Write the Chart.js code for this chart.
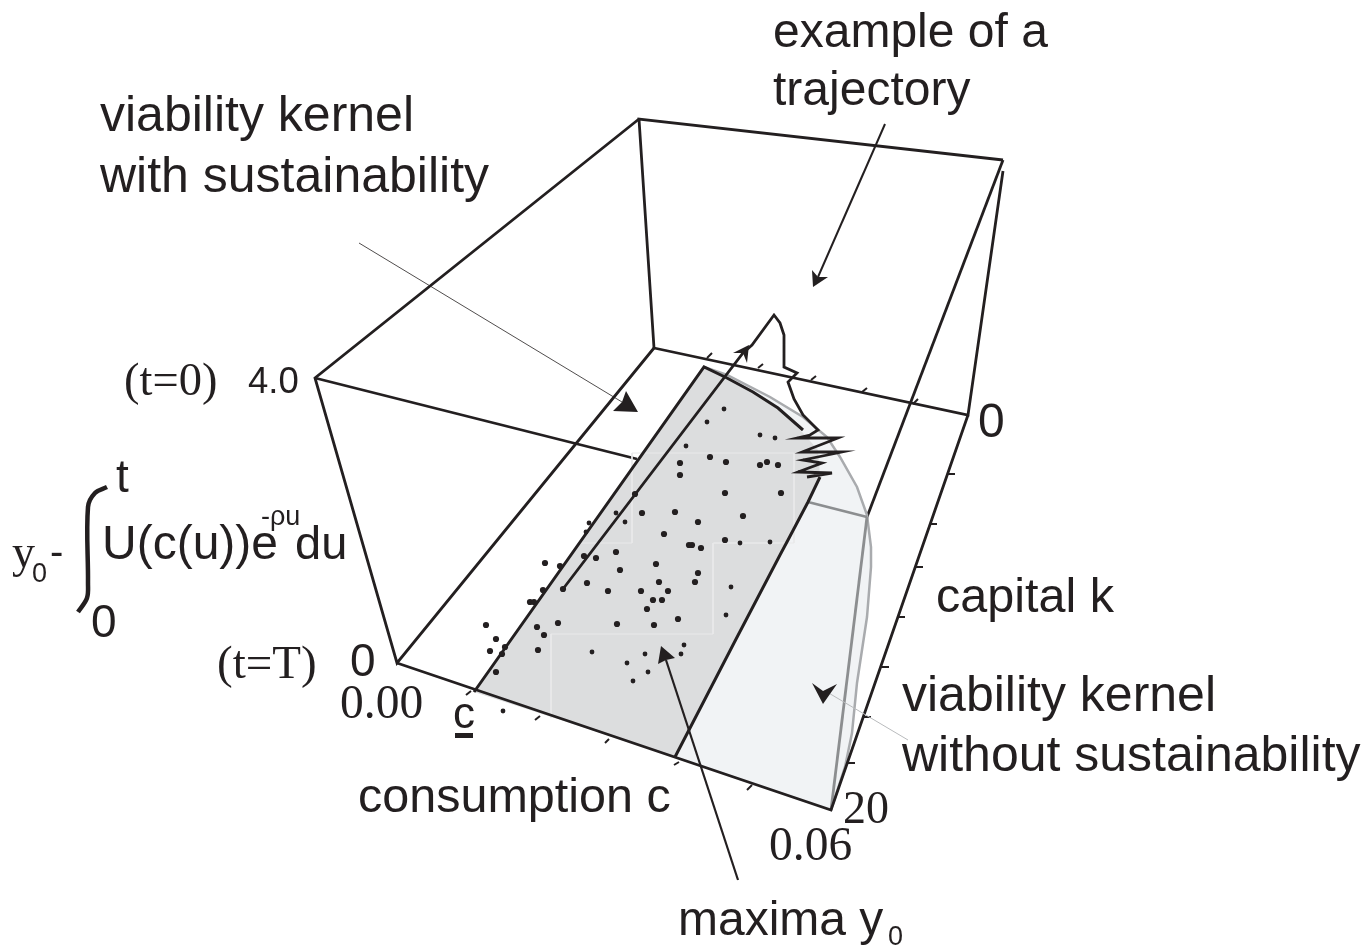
<!DOCTYPE html>
<html>
<head>
<meta charset="utf-8">
<style>
  html, body { margin: 0; padding: 0; background: #fff; }
  canvas { display: block; }
</style>
<script src="https://cdn.jsdelivr.net/npm/chart.js@4"></script>
</head>
<body>
<canvas id="c" width="1370" height="950"></canvas>
<script>
/* picture coords: the axes are pinned to the chart area so values */
const INK = '#231f20', GREY = '#8c8e90', PALE = '#a9abae';

// box frame
const frameBack = [[654,348],[639,119],[1003,160]];
const frameBackRight = [[1003,171],[968,415],[654,348]];
const frameLeft = [[639,119],[315,378],[397,663],[654,348]];
const frameTopFront = [[315,378],[637,459]];
const frameTopFrontHidden = [[808,502],[867,517]];
const frameCornerFront = [[1003,160],[867,517]];
const frameBottom = [[397,663],[831,810],[968,415]];

// tick marks
const ticksBack = [[[707,358],[712,353]],[[758,368],[763,364]],[[811,380],[816,376]],[[862,392],[867,388]],[[913,404],[918,399]]];
const ticksFront = [[[466,695],[471,691]],[[535,720],[540,716]],[[605,743],[609,739]],[[674,765],[679,762]],[[747,790],[752,785]]];
const ticksRight = [[[947,474],[955,474]],[[930,524],[937,524]],[[915,567],[923,567]],[[897,617],[905,617]],[[881,667],[889,667]],[[862,717],[871,717]],[[845,763],[855,763]]];

// surfaces
const kernelOuter = [[704,367],[727,375],[770,397],[803,417],[827,437],[840,457],[857,487],[867,515],[871,547],[871,567],[867,617],[857,683],[852,733],[845,767],[831,810],[675,757]];
const kernelInner = [[474,692],[704,367],[727,378],[753,392],[778,408],[803,433],[818,450],[820,477],[808,502],[788,540],[780,555],[734,643],[675,757]];
const kernelInnerEdge = [[474,692],[704,367],[727,378],[753,392],[778,408],[803,430]];
const kernelInnerRight = [[820,477],[808,502],[788,540],[780,555],[734,643],[675,757]];
const kernelFold = [[867,517],[831,810]];

// faint grid left on the surface
const faintLines = [
  [[632,453],[794,453],[794,543],[714,543]],
  [[632,453],[632,543],[580,543]],
  [[780,543],[713,543],[713,634],[551,634],[551,718]]
];

// trajectory
const trajectory = [[563,589],[743,353],[752,345],[774,315],[780,323],[784,335],[784,367],[797,373],[788,382],[794,399],[803,415],[818,430],[810,435],[797,438],[838,438],[802,452],[842,452],[803,460],[822,463],[798,472],[832,473],[807,477]];

// maxima y0
const dotsLarge = [[710,457],[680,463],[726,462],[760,465],[767,462],[778,465],[680,475],[725,493],[781,493],[635,494],[642,513],[675,512],[698,522],[743,516],[664,534],[725,540],[689,545],[692,545],[701,548],[616,552],[584,556],[596,558],[545,563],[560,566],[656,564],[620,570],[698,573],[659,582],[695,582],[587,583],[543,590],[563,589],[608,591],[641,591],[668,591],[530,602],[534,602],[653,600],[662,600],[647,609],[678,619],[558,623],[617,624],[654,625],[486,625],[537,627],[544,635],[496,639],[505,647],[490,651],[502,654],[538,650],[496,672]];
const dotsSmall = [[724,409],[707,422],[686,446],[760,435],[775,438],[616,513],[589,523],[586,532],[625,522],[740,543],[770,542],[731,587],[726,615],[684,645],[592,652],[645,654],[681,654],[627,663],[648,672],[633,681],[503,711]];

// arrow shafts
const shaftTrajectory = [[885,124],[818,277]];
const shaftSustain = [[359,243],[622,402]];
const shaftMaxima = [[738,880],[666,660]];
const shaftWithout = [[908,740],[827,692]];

// arrow heads
const headTrajectory = [[813,287],[812,270],[818,277],[828,277]];
const headSustain = [[638,412],[613,411],[622,402],[626,391]];
const headMaxima = [[661,646],[675,658],[666,660],[658,664]];
const headWithout = [[823,704],[812,683],[823,691],[837,684]];
const headOnTrajectory = [[749,345],[733,353],[743,353],[747,363]];

// integral sign and underline of c
const integralSign = [[107,487],[95,493],[88,507],[88,583],[87,598],[78,612]];
const cUnderline = [[455,735.5],[473,735.5]];

// labels: text, x, baseline y
const SANS = 'Liberation Sans', SERIF = 'Liberation Serif';
const labels = [
  ['example of a', 773, 47, 48, SANS], ['trajectory', 773, 105, 48, SANS],
  ['viability kernel', 100, 131, 50, SANS], ['with sustainability', 100, 192, 50, SANS],
  ['(t=0)', 124, 395, 46.5, SERIF], ['4.0', 248, 393, 36.5, SANS],
  ['t', 116, 492, 46, SANS], ['y', 12, 567, 46, SERIF], ['0', 32, 582, 27, SANS], ['-', 50, 565, 40, SANS],
  ['U(c(u))e', 102, 559, 48, SANS], ['-ρu', 261, 525, 27, SANS], ['du', 295, 559, 47, SANS], ['0', 91, 637, 46, SANS],
  ['(t=T)', 217, 678, 47, SERIF], ['0', 350, 676, 46, SANS], ['0.00', 340, 718, 47.5, SERIF],
  ['c', 453, 728, 44, SANS], ['consumption c', 358, 812, 48.5, SANS],
  ['capital k', 936, 612, 48.5, SANS], ['0', 978, 437, 48, SANS],
  ['viability kernel', 902, 711, 50, SANS], ['without sustainability', 902, 771, 50, SANS],
  ['20', 843, 823, 46, SERIF], ['0.06', 769, 860, 47.5, SERIF],
  ['maxima y', 678, 935, 48, SANS], ['0', 888, 945, 27, SANS]
];

const pts = a => a.map(p => ({ x: p[0], y: p[1] }));
const stroke = (a, color, width, extra) => Object.assign({
  type: 'line', data: pts(a), borderColor: color, borderWidth: width,
  pointRadius: 0, fill: false, tension: 0, borderJoinStyle: 'miter', clip: false
}, extra || {});
const shape = (a, color) => ({
  type: 'line', data: pts(a.concat([a[0]])), borderWidth: 0, borderColor: color, backgroundColor: color,
  pointRadius: 0, fill: 'shape', tension: 0, clip: false
});
const dots = (a, r) => ({
  type: 'scatter', data: pts(a), pointRadius: r, pointBackgroundColor: INK, pointBorderWidth: 0, showLine: false, clip: false
});

// bottom of the picture first, order is flipped below
const layers = [
  shape(kernelOuter, '#f1f3f5'),
  stroke(frameBack, INK, 2.8),
  stroke(frameBackRight, INK, 2.8),
  stroke(frameLeft, INK, 2.8),
  stroke(frameTopFront, INK, 2.8),
  stroke(frameCornerFront, INK, 2.8),
  ...ticksBack.map(t => stroke(t, INK, 2)),
  ...ticksRight.map(t => stroke(t, INK, 2)),
  stroke(kernelOuter.slice(0, 15), PALE, 2.5),
  shape(kernelInner, '#dcddde'),
  ...faintLines.map(l => stroke(l, '#e9e9ea', 1)),
  stroke(frameTopFrontHidden, GREY, 2.8),
  stroke(kernelFold, GREY, 2.8),
  stroke(kernelInnerEdge, INK, 3),
  stroke(kernelInnerRight, INK, 3),
  stroke(frameBottom, INK, 2.8),
  ...ticksFront.map(t => stroke(t, INK, 2)),
  dots(dotsLarge, 3.1),
  dots(dotsSmall, 2.4),
  stroke(trajectory, INK, 2.8),
  stroke(shaftTrajectory, INK, 2),
  stroke(shaftSustain, INK, 0.8),
  stroke(shaftMaxima, INK, 2.2),
  stroke(shaftWithout, '#b9bbbd', 1),
  shape(headTrajectory, INK),
  shape(headSustain, INK),
  shape(headMaxima, INK),
  shape(headWithout, INK),
  shape(headOnTrajectory, INK),
  stroke(integralSign, INK, 4.5, { tension: 0.35 }),
  stroke(cUnderline, INK, 5)
];
layers.forEach((d, i) => { d.order = layers.length - i; });

const textLabels = {
  id: 'textLabels',
  afterDatasetsDraw(chart) {
    const { ctx, scales: { x, y } } = chart;
    ctx.save();
    ctx.fillStyle = INK;
    ctx.textBaseline = 'alphabetic';
    labels.forEach(([t, px, py, size, fam]) => {
      ctx.font = size + 'px "' + fam + '"';
      ctx.fillText(t, x.getPixelForValue(px), y.getPixelForValue(py));
    });
    ctx.restore();
  }
};

const chart = new Chart(document.getElementById('c'), {
  type: 'scatter',
  data: { datasets: layers },
  options: {
    responsive: false, animation: false,
    layout: { padding: 0 },
    plugins: { legend: { display: false }, tooltip: { enabled: false } },
    scales: {
      x: { type: 'linear', min: 0, max: 1370, display: false },
      y: { type: 'linear', min: 0, max: 950, reverse: true, display: false }
    }
  },
  plugins: [textLabels]
});

// the line overflow insets the chart area a little, so pin the ranges to it
const area = chart.chartArea;
chart.options.scales.x.min = area.left;
chart.options.scales.x.max = area.right;
chart.options.scales.y.min = area.top;
chart.options.scales.y.max = area.bottom;
chart.update();
</script>
</body>
</html>
